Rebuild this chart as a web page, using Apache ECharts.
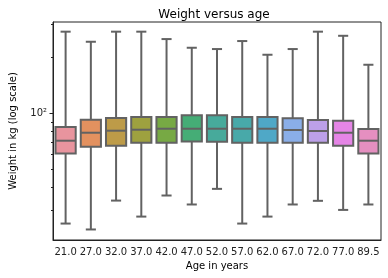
<!DOCTYPE html>
<html>
<head>
<meta charset="utf-8">
<script src="https://cdn.jsdelivr.net/npm/echarts@6/dist/echarts.min.js"></script>
<style>
  html, body { margin: 0; padding: 0; background: #fff; }
  #chart { width: 388px; height: 278px; }
</style>
</head>
<body>
<div id="chart"></div>
<script>
// age groups and box statistics (kg)
let ages = ['21.0', '27.0', '32.0', '37.0', '42.0', '47.0', '52.0', '57.0', '62.0', '67.0', '72.0', '77.0', '89.5'];
let lowWhisker = [25.5, 23.7, 33.9, 27.8, 36.1, 32.3, 39.2, 25.5, 27.8, 32.3, 33.8, 30.2, 32.3];
let q1 = [60.7, 66.1, 66.9, 69.5, 69.5, 70.4, 70.2, 69.5, 69.5, 69.5, 69.5, 66.9, 60.7];
let median = [71.2, 78.6, 80.6, 81.6, 82.6, 82.6, 82.6, 82.6, 82.6, 81.3, 80.3, 78.6, 71.2];
let q3 = [84.4, 92.4, 94.3, 95.5, 95.5, 97.5, 97.5, 95.5, 95.5, 94.0, 92.0, 91.2, 82.4];
let highWhisker = [275, 242.7, 275, 275, 250.9, 225.3, 221.7, 244.8, 206.6, 221.7, 275, 261.3, 182.5];
let majorTicks = [100];
let minorTicks = [30, 40, 50, 60, 70, 80, 90, 200, 300];

let boxColors = ['#e8949e', '#e3915f', '#bd9b48', '#9ea13f', '#77a944', '#45ad76', '#47aa9b',
  '#48a9a9', '#4fa8c7', '#8aaee8', '#bca0e8', '#e585e6', '#e58fc0'];
let lineColor = '#626262';

let boxData = [];
for (let i = 0; i < ages.length; i++) {
  boxData.push([i, lowWhisker[i], q1[i], median[i], q3[i], highWhisker[i]]);
}

let yMin = 20.8;
let yMax = 310;

let chart = echarts.init(document.getElementById('chart'), null, { renderer: 'canvas' });
chart.setOption({
  animation: false,
  textStyle: { fontFamily: 'DejaVu Sans' },
  title: {
    text: 'Weight versus age',
    left: 209,
    textAlign: 'center',
    top: 4,
    textStyle: { fontSize: 12, fontWeight: 'normal', color: '#000', fontFamily: 'DejaVu Sans' }
  },
  grid: {
    left: 47, right: 7, top: 22, bottom: 38,
    show: true, borderColor: '#222', borderWidth: 1, backgroundColor: '#fff'
  },
  xAxis: {
    type: 'category',
    data: ages,
    boundaryGap: true,
    name: 'Age in years',
    nameLocation: 'middle',
    nameGap: 21,
    nameTextStyle: { fontSize: 10, color: '#000' },
    axisLine: { lineStyle: { color: '#222', width: 1 } },
    axisTick: { alignWithLabel: true, length: 3.5, lineStyle: { color: '#222' } },
    axisLabel: { fontSize: 10, color: '#222', margin: 7, interval: 0 },
    splitLine: { show: false }
  },
  yAxis: [
    {
      type: 'log',
      logBase: 10,
      min: yMin,
      max: yMax,
      name: 'Weight in kg (log scale)',
      nameLocation: 'middle',
      nameGap: 35,
      nameTextStyle: { fontSize: 10, color: '#000' },
      axisLine: { show: true, lineStyle: { color: '#222', width: 1 } },
      axisTick: { show: true, length: 3.5, customValues: majorTicks, lineStyle: { color: '#222' } },
      axisLabel: {
        fontSize: 10, color: '#222', margin: 6,
        customValues: majorTicks,
        formatter: function (v) { return '10²'; }
      },
      splitLine: { show: false }
    },
    {
      type: 'log',
      logBase: 10,
      min: yMin,
      max: yMax,
      position: 'left',
      axisLine: { show: false },
      axisTick: { show: true, length: 2, customValues: minorTicks, lineStyle: { color: '#222' } },
      axisLabel: { show: false, customValues: minorTicks },
      splitLine: { show: false }
    }
  ],
  series: [{
    type: 'custom',
    data: boxData,
    encode: { x: 0, y: [1, 2, 3, 4, 5] },
    renderItem: function (params, api) {
      let x = api.value(0);
      let lo = api.coord([x, api.value(1)]);
      let b1 = api.coord([x, api.value(2)]);
      let md = api.coord([x, api.value(3)]);
      let b3 = api.coord([x, api.value(4)]);
      let hi = api.coord([x, api.value(5)]);
      let band = api.coord([x + 1, api.value(3)])[0] - md[0];
      let bw = band * 0.8;
      let cw = bw / 2;
      let cx = md[0];
      let ls = { stroke: lineColor, lineWidth: 2 };
      return {
        type: 'group',
        children: [
          { type: 'line', shape: { x1: cx, y1: hi[1], x2: cx, y2: b3[1] }, style: ls },
          { type: 'line', shape: { x1: cx, y1: b1[1], x2: cx, y2: lo[1] }, style: ls },
          { type: 'line', shape: { x1: cx - cw / 2, y1: hi[1], x2: cx + cw / 2, y2: hi[1] }, style: ls },
          { type: 'line', shape: { x1: cx - cw / 2, y1: lo[1], x2: cx + cw / 2, y2: lo[1] }, style: ls },
          {
            type: 'rect',
            shape: { x: cx - bw / 2, y: b3[1], width: bw, height: b1[1] - b3[1] },
            style: { fill: boxColors[params.dataIndex], stroke: lineColor, lineWidth: 2 }
          },
          { type: 'line', shape: { x1: cx - bw / 2, y1: md[1], x2: cx + bw / 2, y2: md[1] }, style: ls }
        ]
      };
    }
  }]
});
</script>
</body>
</html>
